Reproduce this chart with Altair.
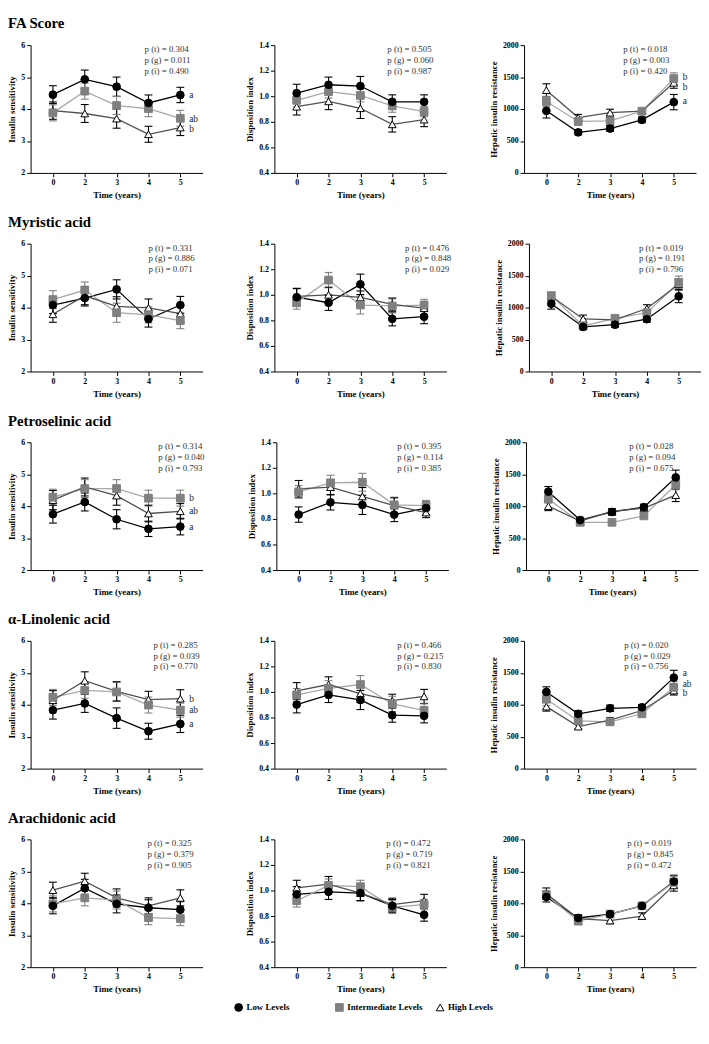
import altair as alt
import pandas as pd

TIMES = ["0", "2", "3", "4", "5"]
GROUPS = ["Low Levels", "Intermediate Levels", "High Levels"]
ROWS = ["FA Score", "Myristic acid", "Petroselinic acid", "α-Linolenic acid", "Arachidonic acid"]
METRICS = ["Insulin sensitivity", "Disposition index", "Hepatic insulin resistance"]

# ---- FA Score ----
FA_IS_MEAN = [[4.45, 4.93, 4.70, 4.19, 4.44], [3.88, 4.56, 4.11, 4.01, 3.71], [3.95, 3.86, 3.70, 3.21, 3.42]]
FA_IS_SE = [[0.28, 0.29, 0.30, 0.25, 0.24], [0.25, 0.25, 0.28, 0.25, 0.25], [0.27, 0.28, 0.30, 0.25, 0.25]]
FA_DI_MEAN = [[1.024, 1.09, 1.08, 0.956, 0.956], [0.968, 1.036, 1.006, 0.925, 0.88], [0.918, 0.96, 0.906, 0.78, 0.817]]
FA_DI_SE = [[0.07, 0.06, 0.075, 0.055, 0.055], [0.05, 0.05, 0.05, 0.05, 0.04], [0.065, 0.065, 0.08, 0.06, 0.055]]
FA_HIR_MEAN = [[972, 635, 695, 831, 1108], [1118, 806, 816, 967, 1476], [1295, 866, 942, 967, 1410]]
FA_HIR_SE = [[113, 40, 45, 45, 120], [80, 60, 55, 40, 90], [100, 50, 55, 40, 85]]

# ---- Myristic acid ----
MY_IS_MEAN = [[4.08, 4.30, 4.57, 3.64, 4.08], [4.25, 4.55, 3.84, 3.77, 3.59], [3.79, 4.37, 4.04, 3.99, 3.81]]
MY_IS_SE = [[0.27, 0.25, 0.30, 0.25, 0.27], [0.28, 0.25, 0.30, 0.25, 0.25], [0.25, 0.28, 0.30, 0.28, 0.25]]
MY_DI_MEAN = [[0.981, 0.938, 1.082, 0.812, 0.829], [0.938, 1.115, 0.92, 0.913, 0.92], [0.988, 1.0, 0.98, 0.925, 0.895]]
MY_DI_SE = [[0.07, 0.06, 0.08, 0.055, 0.055], [0.05, 0.06, 0.07, 0.055, 0.045], [0.06, 0.06, 0.05, 0.05, 0.05]]
MY_HIR_MEAN = [[1061, 697, 732, 818, 1177], [1187, 712, 833, 919, 1394], [1177, 823, 808, 985, 1364]]
MY_HIR_SE = [[85, 40, 40, 45, 100], [50, 40, 40, 45, 100], [60, 60, 40, 60, 85]]

# ---- Petroselinic acid ----
PE_IS_MEAN = [[3.75, 4.13, 3.59, 3.29, 3.36], [4.28, 4.55, 4.55, 4.25, 4.25], [4.19, 4.60, 4.33, 3.77, 3.84]]
PE_IS_SE = [[0.28, 0.28, 0.30, 0.24, 0.26], [0.25, 0.28, 0.28, 0.25, 0.25], [0.30, 0.28, 0.30, 0.26, 0.24]]
PE_DI_MEAN = [[0.834, 0.93, 0.91, 0.834, 0.885], [1.011, 1.082, 1.087, 0.91, 0.905], [1.036, 1.049, 0.976, 0.905, 0.85]]
PE_DI_SE = [[0.06, 0.06, 0.075, 0.055, 0.05], [0.05, 0.06, 0.07, 0.06, 0.04], [0.065, 0.06, 0.07, 0.06, 0.04]]
PE_HIR_MEAN = [[1227, 783, 909, 985, 1449], [1111, 747, 747, 848, 1338], [1000, 768, 919, 970, 1172]]
PE_HIR_SE = [[80, 40, 50, 45, 115], [60, 40, 30, 35, 80], [70, 40, 40, 40, 100]]

# ---- alpha-Linolenic acid ----
LI_IS_MEAN = [[3.83, 4.04, 3.58, 3.17, 3.40], [4.23, 4.45, 4.40, 3.99, 3.83], [4.14, 4.75, 4.42, 4.16, 4.19]]
LI_IS_SE = [[0.28, 0.28, 0.32, 0.25, 0.27], [0.25, 0.25, 0.30, 0.25, 0.22], [0.30, 0.28, 0.30, 0.26, 0.28]]
LI_DI_MEAN = [[0.901, 0.977, 0.937, 0.818, 0.813], [0.977, 1.028, 1.058, 0.906, 0.856], [1.008, 1.058, 0.987, 0.932, 0.965]]
LI_DI_SE = [[0.065, 0.06, 0.075, 0.055, 0.055], [0.05, 0.06, 0.07, 0.06, 0.05], [0.065, 0.06, 0.07, 0.05, 0.055]]
LI_HIR_MEAN = [[1200, 858, 944, 960, 1424], [1086, 747, 732, 858, 1273], [970, 657, 758, 909, 1222]]
LI_HIR_SE = [[80, 45, 50, 40, 115], [100, 50, 50, 40, 90], [70, 35, 40, 40, 70]]

# ---- Arachidonic acid ----
AR_IS_MEAN = [[3.92, 4.47, 3.98, 3.86, 3.80], [3.98, 4.17, 4.10, 3.55, 3.52], [4.41, 4.69, 4.17, 3.92, 4.17]]
AR_IS_SE = [[0.25, 0.28, 0.28, 0.25, 0.25], [0.25, 0.25, 0.28, 0.22, 0.22], [0.25, 0.25, 0.28, 0.25, 0.25]]
AR_DI_MEAN = [[0.97, 0.99, 0.98, 0.88, 0.81], [0.92, 1.04, 1.03, 0.87, 0.89], [1.02, 1.05, 0.98, 0.89, 0.92]]
AR_DI_SE = [[0.06, 0.06, 0.06, 0.05, 0.05], [0.05, 0.05, 0.05, 0.05, 0.04], [0.06, 0.06, 0.06, 0.05, 0.05]]
AR_HIR_MEAN = [[1100, 770, 830, 960, 1340], [1130, 720, 830, 960, 1330], [1150, 760, 730, 800, 1280]]
AR_HIR_SE = [[80, 50, 50, 50, 100], [70, 50, 50, 50, 90], [90, 50, 50, 50, 90]]

# p-values per row, per metric
P_T = [[0.304, 0.505, 0.018], [0.331, 0.476, 0.019], [0.314, 0.395, 0.028], [0.285, 0.466, 0.020], [0.325, 0.472, 0.019]]
P_G = [[0.011, 0.060, 0.003], [0.886, 0.848, 0.191], [0.040, 0.114, 0.094], [0.039, 0.215, 0.029], [0.379, 0.719, 0.845]]
P_I = [[0.490, 0.987, 0.420], [0.071, 0.029, 0.796], [0.793, 0.385, 0.675], [0.770, 0.830, 0.756], [0.905, 0.821, 0.472]]

# significance letters: (row, metric) -> labels and y positions
LETTER_PANELS = {
    (0, 0): (["a", "ab", "b"], [4.44, 3.70, 3.38]),
    (0, 2): (["b", "b", "a"], [1500, 1350, 1118]),
    (2, 0): (["b", "ab", "a"], [4.25, 3.84, 3.36]),
    (3, 0): (["b", "ab", "a"], [4.19, 3.83, 3.40]),
    (3, 2): (["a", "ab", "b"], [1490, 1320, 1175]),
}

PANEL_DATA = [
    [(FA_IS_MEAN, FA_IS_SE), (FA_DI_MEAN, FA_DI_SE), (FA_HIR_MEAN, FA_HIR_SE)],
    [(MY_IS_MEAN, MY_IS_SE), (MY_DI_MEAN, MY_DI_SE), (MY_HIR_MEAN, MY_HIR_SE)],
    [(PE_IS_MEAN, PE_IS_SE), (PE_DI_MEAN, PE_DI_SE), (PE_HIR_MEAN, PE_HIR_SE)],
    [(LI_IS_MEAN, LI_IS_SE), (LI_DI_MEAN, LI_DI_SE), (LI_HIR_MEAN, LI_HIR_SE)],
    [(AR_IS_MEAN, AR_IS_SE), (AR_DI_MEAN, AR_DI_SE), (AR_HIR_MEAN, AR_HIR_SE)],
]

DOMAINS = [[2, 6], [0.4, 1.4], [0, 2000]]
TICKS = [[2, 3, 4, 5, 6], [0.4, 0.6, 0.8, 1.0, 1.2, 1.4], [0, 500, 1000, 1500, 2000]]
FORMATS = ["d", ".1f", "d"]
P_DX = [[-4, -5, -19], [0, 13, -8], [10, 3, -15], [5, 5, -18], [-1, -6, -15]]

LINE_COLORS = ["#000000", "#a8a8a8", "#505050"]
FILL_COLORS = ["#000000", "#808080", "#ffffff"]
STROKE_COLORS = ["#000000", "#808080", "#000000"]
SHAPES = ["circle", "square", "triangle-up"]
SERIF = "Liberation Serif"

W, H = 175, 130

STROKE_SCALE = alt.Scale(domain=GROUPS, range=STROKE_COLORS)
FILL_SCALE = alt.Scale(domain=GROUPS, range=FILL_COLORS)
SHAPE_SCALE = alt.Scale(domain=GROUPS, range=SHAPES)
LINE_SCALE = alt.Scale(domain=GROUPS, range=LINE_COLORS)


def panel(r, m):
    mean, se = PANEL_DATA[r][m]
    recs = []
    for gi, g in enumerate(GROUPS):
        for ti, t in enumerate(TIMES):
            recs.append(dict(group=g, time=t, mean=mean[gi][ti],
                             lo=mean[gi][ti] - se[gi][ti], hi=mean[gi][ti] + se[gi][ti]))
    df = pd.DataFrame(recs)

    x = alt.X("time:O", sort=TIMES, scale=alt.Scale(type="point", padding=0.7),
              axis=alt.Axis(title="Time (years)", labelAngle=0))
    yscale = alt.Scale(domain=DOMAINS[m], nice=False, zero=False)
    yaxis = alt.Axis(title=METRICS[m], values=TICKS[m], format=FORMATS[m], labelOverlap=False)

    def Y(field):
        return alt.Y(field, scale=yscale, axis=yaxis)

    stroke = alt.Stroke("group:N", scale=STROKE_SCALE, legend=None)
    fill = alt.Fill("group:N", scale=FILL_SCALE, legend=None)
    shape = alt.Shape("group:N", scale=SHAPE_SCALE, legend=None)

    base = alt.Chart(df)
    lines = base.mark_line(strokeWidth=1.3).encode(
        x=x, y=Y("mean:Q"),
        color=alt.Color("group:N", scale=LINE_SCALE, legend=None),
    )
    bars = base.mark_rule(strokeWidth=1.1).encode(x=x, y=Y("lo:Q"), y2="hi:Q", stroke=stroke)
    cap_lo = base.mark_point(shape="stroke", size=64, strokeWidth=1.1, opacity=1).encode(
        x=x, y=Y("lo:Q"), stroke=stroke)
    cap_hi = base.mark_point(shape="stroke", size=64, strokeWidth=1.1, opacity=1).encode(
        x=x, y=Y("hi:Q"), stroke=stroke)
    pts = base.mark_point(filled=True, size=62, strokeWidth=1, opacity=1).encode(
        x=x, y=Y("mean:Q"), fill=fill, stroke=stroke, shape=shape,
        order=alt.Order("gorder:Q"),
    ).transform_calculate(gorder="indexof(['High Levels','Intermediate Levels','Low Levels'], datum.group)")

    layers = [lines, bars, cap_lo, cap_hi, pts]

    p_lines = ["p (t) = %.3f" % P_T[r][m], "p (g) = %.3f" % P_G[r][m], "p (i) = %.3f" % P_I[r][m]]
    for k, lab in enumerate(p_lines):
        pdf = pd.DataFrame({"time": ["4"], "y": [DOMAINS[m][1]], "label": [lab]})
        layers.append(alt.Chart(pdf).mark_text(
            align="left", baseline="middle", font=SERIF, fontSize=9, color="#333333",
            dx=P_DX[r][m], dy=4 + 11 * k,
        ).encode(x=x, y=Y("y:Q"), text="label:N"))

    if (r, m) in LETTER_PANELS:
        labs, ys = LETTER_PANELS[(r, m)]
        ldf = pd.DataFrame({"time": ["5"] * len(labs), "y": ys, "label": labs})
        letters = alt.Chart(ldf).mark_text(
            align="left", baseline="middle", font=SERIF, fontSize=9.5, color="#222222", dx=9,
        ).encode(x=x, y=Y("y:Q"), text="label:N")
        layers.append(letters)

    return alt.layer(*layers).properties(width=W, height=H)


rows = []
for r, name in enumerate(ROWS):
    rows.append(alt.hconcat(
        panel(r, 0), panel(r, 1), panel(r, 2), spacing=44,
        title=alt.Title(name, anchor="start", font=SERIF, fontSize=15, fontWeight="bold",
                        color="black", offset=10),
    ))
grid = alt.vconcat(*rows, spacing=16)

# legend row built from the group list
leg_df = pd.DataFrame({"group": GROUPS})
lx = alt.X("group:N", sort=GROUPS, scale=alt.Scale(type="point", padding=0), axis=None)
leg_pts = alt.Chart(leg_df).mark_point(filled=True, size=62, strokeWidth=1, opacity=1).encode(
    x=lx,
    fill=alt.Fill("group:N", scale=FILL_SCALE, legend=None),
    stroke=alt.Stroke("group:N", scale=STROKE_SCALE, legend=None),
    shape=alt.Shape("group:N", scale=SHAPE_SCALE, legend=None),
)
leg_txt = alt.Chart(leg_df).mark_text(
    align="left", baseline="middle", dx=8, font=SERIF, fontWeight="bold", fontSize=9, color="black",
).encode(x=lx, text="group:N")
legend_row = alt.layer(leg_pts, leg_txt).properties(width=205, height=12)

chart = alt.vconcat(grid, legend_row, spacing=8, center=True).resolve_scale(
    color="shared", fill="shared", stroke="shared", shape="shared"
).properties(
    padding={"left": 0, "top": 0, "right": 0, "bottom": 0}
).configure_axis(
    labelFont=SERIF, labelFontWeight="bold", labelFontSize=8, labelColor="black",
    titleFont=SERIF, titleFontWeight="bold", titleFontSize=9, titleColor="black",
    domainColor="black", tickColor="black", tickSize=4, grid=False,
    labelPadding=2, titlePadding=4,
).configure_view(strokeWidth=0)

chart.save("out.html", embed_options={"renderer": "svg", "actions": False})
